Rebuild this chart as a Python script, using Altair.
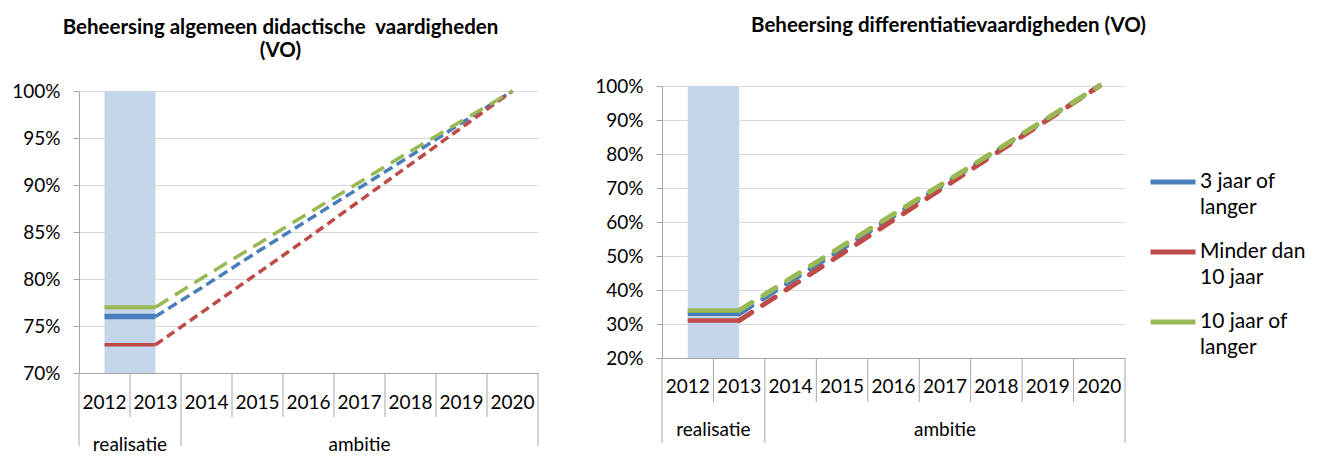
import altair as alt
import pandas as pd

# ---------------- data ----------------
years = ["2012", "2013", "2014", "2015", "2016", "2017", "2018", "2019", "2020"]
series = ["3 jaar of langer", "Minder dan 10 jaar", "10 jaar of langer"]
colors = ["#4A7EBB", "#BE4B48", "#98B954"]

realised_years = ["2012", "2013"]
group_names = ["realisatie", "ambitie"]
group_first = ["2012", "2014"]
group_last = ["2013", "2020"]

left_title = ["Beheersing algemeen didactische \u00a0vaardigheden", "(VO)"]
left_ticks = [70, 75, 80, 85, 90, 95, 100]
left_blue = [76, 76, 79.4, 82.9, 86.3, 89.7, 93.1, 96.6, 100]
left_red = [73, 73, 76.8, 80.6, 84.4, 88.3, 92.2, 96.1, 100]
left_green = [77, 77, 80.4, 83.7, 87.0, 90.3, 93.6, 96.8, 100]

right_title = "Beheersing differentiatievaardigheden (VO)"
right_ticks = [20, 30, 40, 50, 60, 70, 80, 90, 100]
right_blue = [33, 33, 42.6, 52.1, 61.7, 71.3, 80.9, 90.4, 100]
right_red = [31, 31, 40.9, 50.7, 60.6, 70.4, 80.3, 90.1, 100]
right_green = [34, 34, 43.4, 52.9, 62.3, 71.7, 81.1, 90.6, 100]

# ---------------- styles ----------------
SHADE = "#C6D6EA"
AXIS_GREY = "#A6A6A6"
GRID_GREY = "#D9D9D9"
FONT = "Lato"
TXT = "#000000"
FS = 19


def line_frame(vals_list):
    rows = []
    last_real = years.index(realised_years[-1])
    for s, vals in zip(series, vals_list):
        for i, (yr, v) in enumerate(zip(years, vals)):
            if yr in realised_years:
                rows.append({"series": s, "pos": i + 0.5, "value": v, "part": "solid"})
            if i >= last_real:
                rows.append({"series": s, "pos": i + 0.5, "value": v, "part": "dashed"})
    return pd.DataFrame(rows)


year_df = pd.DataFrame({"year": years, "pos": [i + 0.5 for i in range(len(years))]})
group_bounds = sorted({years.index(f) for f in group_first} | {years.index(l) + 1 for l in group_last})
bound_df = pd.DataFrame({"b": list(range(len(years) + 1))})
bound_df["kind"] = ["long" if b in group_bounds else "short" for b in bound_df["b"]]
group_df = pd.DataFrame({
    "group": group_names,
    "center": [(years.index(f) + years.index(l) + 1) / 2 for f, l in zip(group_first, group_last)],
})
shade_df = pd.DataFrame({
    "x0": [years.index(realised_years[0]) + 0.5],
    "x1": [years.index(realised_years[-1]) + 0.5],
})

legend_def = alt.Legend(
    orient="none", legendX=486, legendY=71, title=None,
    symbolType="stroke", symbolSize=2025, symbolStrokeWidth=5, symbolDash=[1, 0],
    labelFont=FONT, labelFontSize=21, labelColor=TXT, labelLimit=300,
    labelExpr="split(replace(replace(datum.label, 'of ', 'of|'), 'dan ', 'dan|'), '|')",
    rowPadding=9, labelOffset=2, padding=0,
)


def panel(vals_list, ticks, W, H, top_gap, title, title_dx, title_offset,
          solid_w, dashed_w, dashes, cap, year_dy, short_len, group_dy, long_len, legend):
    ymin, ymax = ticks[0], ticks[-1]
    xs = alt.Scale(domain=[0, len(years)], nice=False, zero=False)
    ys = alt.Scale(domain=[ymin, ymax], nice=False, zero=False, range=[H, top_gap])
    xaxis = alt.Axis(domain=True, domainColor=AXIS_GREY, domainWidth=1, ticks=False,
                     labels=False, grid=False, title=None)
    yaxis = alt.Axis(values=ticks, labelExpr="datum.value + '%'", grid=True,
                     gridColor=GRID_GREY, gridWidth=1.2, domainColor=AXIS_GREY,
                     tickColor=AXIS_GREY, tickSize=6, labelPadding=13, labelFontSize=FS,
                     labelFont=FONT, labelColor=TXT, title=None)
    X = lambda f: alt.X(f, scale=xs, axis=xaxis)
    Y = lambda f: alt.Y(f, scale=ys, axis=yaxis)
    cscale = alt.Scale(domain=series, range=colors)

    layers = [
        alt.Chart(shade_df.assign(top=ymax, bottom=ymin)).mark_rect(color=SHADE).encode(
            x=X("x0:Q"), x2="x1:Q", y=Y("top:Q"), y2="bottom:Q")
    ]
    ldf = line_frame(vals_list)
    for k, s in enumerate(series):
        layers.append(
            alt.Chart(ldf).transform_filter(
                (alt.datum.series == s) & (alt.datum.part == "solid")
            ).mark_line(strokeWidth=solid_w[k], strokeCap="butt").encode(
                x=X("pos:Q"), y=Y("value:Q"),
                color=alt.Color("series:N", scale=cscale,
                                legend=legend if (k == 0 and legend is not None) else None),
            )
        )
    for k, s in enumerate(series):
        layers.append(
            alt.Chart(ldf).transform_filter(
                (alt.datum.series == s) & (alt.datum.part == "dashed")
            ).mark_line(strokeWidth=dashed_w[k], strokeDash=dashes[k], strokeCap=cap).encode(
                x=X("pos:Q"), y=Y("value:Q"),
                color=alt.Color("series:N", scale=cscale, legend=None),
            )
        )
    layers.append(
        alt.Chart(bound_df).transform_filter(alt.datum.kind == "short").mark_rule(
            color=AXIS_GREY, strokeWidth=1).encode(
            x=X("b:Q"), y=alt.value(H), y2=alt.value(H + short_len))
    )
    layers.append(
        alt.Chart(bound_df).transform_filter(alt.datum.kind == "long").mark_rule(
            color=AXIS_GREY, strokeWidth=1).encode(
            x=X("b:Q"), y=alt.value(H), y2=alt.value(H + long_len))
    )
    layers.append(
        alt.Chart(year_df).mark_text(font=FONT, fontSize=FS, color=TXT, baseline="middle").encode(
            x=X("pos:Q"), y=alt.value(H + year_dy), text="year:N")
    )
    layers.append(
        alt.Chart(group_df).mark_text(font=FONT, fontSize=FS, color=TXT, baseline="middle").encode(
            x=X("center:Q"), y=alt.value(H + group_dy), text="group:N")
    )
    return alt.layer(*layers).properties(
        width=W, height=H,
        title=alt.TitleParams(text=title, font=FONT, fontSize=20.5, fontWeight="bold", color=TXT,
                              anchor="middle", frame="group", dx=title_dx, offset=title_offset,
                              lineHeight=23),
    )


left = panel([left_blue, left_red, left_green], left_ticks, 459, 287, 5, left_title, -28, 21,
             solid_w=[5.5, 3.5, 4], dashed_w=[3.5, 3.5, 3.5],
             dashes=[[10, 5], [9, 5], [15, 8]], cap="butt",
             year_dy=30, short_len=44, group_dy=72, long_len=73, legend=None)

right = panel([right_blue, right_red, right_green], right_ticks, 463, 272, 0, right_title, 55, 40,
              solid_w=[4.5, 4.5, 4.5], dashed_w=[5, 5, 5],
              dashes=[[15, 13], [15, 13], [15, 13]], cap="round",
              year_dy=29, short_len=44, group_dy=72, long_len=85, legend=legend_def)

chart = alt.hconcat(left, right, spacing=55).resolve_scale(color="independent").properties(
    padding={"left": 3, "top": 7, "right": 5, "bottom": 0}
).configure(
    style={"guide-label": {"lineHeight": 26}}
).configure_view(stroke=None)

chart.save("out.html", embed_options={"renderer": "svg", "actions": False})
